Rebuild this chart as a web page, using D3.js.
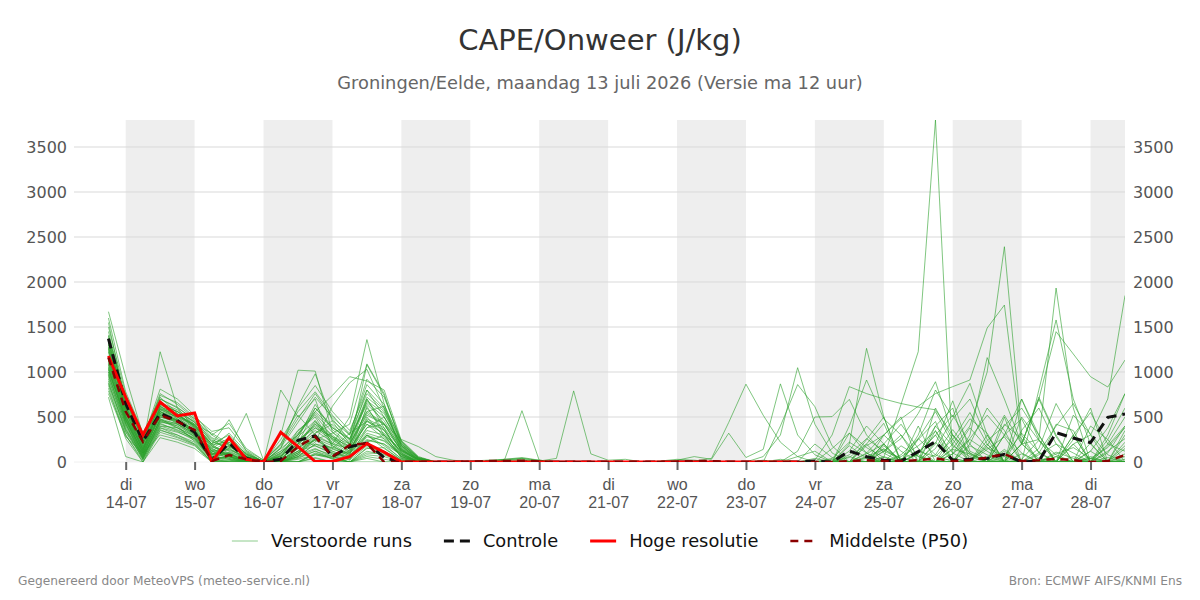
<!DOCTYPE html>
<html>
<head>
<meta charset="utf-8">
<script src="https://cdn.jsdelivr.net/npm/d3@7"></script>
<style>
	body { margin: 0; background: #fff; font-family: "DejaVu Sans", sans-serif; }
	#chart { width: 1200px; height: 600px; }
</style>
</head>
<body>
<div id="chart"></div>
<script>

// 6-hourly steps from ma 13-07 18 uur up to di 28-07 12 uur (60 steps)
const firstStep = new Date(2026, 6, 13, 18);
const dayNames = ["zo", "ma", "di", "wo", "do", "vr", "za"];
const yTicks = [0, 500, 1000, 1500, 2000, 2500, 3000, 3500];

// perturbed members (J/kg)
const perturbedRuns = [
	[1670,950,300,720,540,400, 180,60,10,0, 300,1020,1010,330,160,540,420,120,20, 0,0,0,0,10,20,10,0,0,0,0,0,0,0,0,0,0, 0,0,20,0,60,120,0,180,40,0,0,260,80,0,20,160,60,0,0,110,40,0,10,180],
	[1550,640,180,1225,600,380, 120,40,0,0, 0,60,200,120,30,300,150,20,0, 0,0,0,0,0,0,0,0,0,0,0,0,0,0,0,0,0, 0,0,0,30,0,0,40,220,100,0,0,90,400,180,60,0,0,30,240,80,0,0,50,0],
	[1400,720,240,560,460,330, 60,150,540,20, 120,350,500,200,80,620,300,60,0, 0,0,0,0,20,30,0,0,0,0,0,0,0,0,0,0,0, 0,0,0,0,0,200,50,0,0,120,300,60,0,0,0,180,520,200,40,0,0,60,0,30],
	[1250,560,120,680,520,420, 200,470,120,0, 40,200,600,380,250,800,500,150,30, 0,0,0,0,0,0,0,0,0,0,0,0,0,0,0,0,0, 0,0,0,0,0,0,0,320,160,50,0,0,200,680,120,30,0,0,0,90,160,40,0,0],
	[1180,520,90,620,480,300, 40,100,30,0, 800,500,700,150,320,450,350,80,0, 0,0,0,0,0,0,0,0,0,0,0,0,0,0,0,0,0, 0,0,0,0,0,0,0,60,0,200,420,150,0,140,90,0,300,480,100,0,0,210,0,150],
	[1100,480,60,560,420,280, 20,60,0,0, 150,620,980,450,200,700,380,40,0, 0,0,0,10,20,40,20,0,0,0,0,0,0,0,0,0,0, 0,0,0,0,0,0,30,0,0,0,0,80,0,0,260,520,300,100,0,0,0,40,0,0],
	[1050,430,40,480,380,250, 50,30,0,0, 100,300,560,740,948,900,800,240,60, 0,0,0,0,0,0,0,0,0,0,0,0,0,0,0,0,0, 0,0,0,0,0,0,0,0,90,200,0,0,0,0,0,0,60,320,110,0,0,0,180,400],
	[980,380,30,450,400,230, 30,60,10,0, 20,150,300,200,500,1360,650,100,0, 0,0,0,0,0,0,0,0,0,0,0,0,0,0,0,0,0, 0,0,0,0,0,0,0,0,0,0,60,180,340,100,0,0,0,0,0,0,520,310,80,0],
	[1350,620,200,650,560,450, 260,120,40,0, 0,80,250,320,420,1090,760,180,20, 0,0,0,0,30,50,20,0,0,0,0,0,0,0,0,0,0, 0,0,0,0,0,0,0,80,260,120,40,0,0,0,0,140,280,0,0,60,0,0,0,0],
	[1300,600,150,600,520,420, 320,200,80,10, 60,240,400,260,180,1080,740,220,40, 0,0,0,0,0,0,0,0,0,0,0,0,0,0,0,0,0, 0,0,0,0,0,0,0,0,0,0,180,60,0,0,0,0,0,200,700,280,0,0,0,0],
	[1220,580,220,700,600,480, 300,180,60,0, 0,100,220,620,880,1030,600,150,0, 0,0,0,0,0,0,0,0,0,0,0,0,0,0,0,0,0, 0,0,0,0,0,0,0,0,0,150,0,0,0,90,380,160,0,0,0,0,0,0,120,260],
	[900,340,60,420,360,260, 80,220,100,0, 200,520,300,100,60,240,200,80,0, 0,0,10,20,30,570,20,0,0,0,0,0,0,0,0,0,0, 0,0,0,0,0,40,0,0,0,0,0,100,300,520,200,0,0,0,150,650,300,0,0,90],
	[850,300,20,380,300,200, 0,20,0,0, 0,80,150,60,0,120,80,0,0, 0,0,0,0,0,0,10,40,790,90,20,30,0,0,0,0,0, 0,0,0,0,0,0,0,0,200,430,0,0,0,300,80,0,420,260,0,0,0,0,200,500],
	[1000,500,140,520,450,320, 100,80,30,0, 0,0,80,50,120,380,420,250,170, 60,20,0,0,0,0,0,0,0,0,0,0,0,0,0,0,0, 0,0,0,0,0,0,150,320,100,0,0,250,450,0,0,0,0,350,600,200,0,0,0,0],
	[760,280,100,300,250,180, 0,0,0,0, 0,0,40,0,0,60,30,0,0, 0,0,0,0,0,0,0,0,0,0,0,0,0,0,0,10,40, 440,865,520,220,60,0,0,0,40,0,0,0,0,0,0,60,0,0,0,0,0,0,0,0],
	[820,260,0,360,280,200, 30,0,0,0, 0,40,120,60,0,0,0,0,0, 0,0,0,0,0,0,0,0,0,0,0,0,0,0,20,60,30, 320,50,140,868,300,80,0,0,0,0,0,0,0,0,0,0,0,0,0,0,0,120,0,0],
	[940,360,80,460,380,290, 60,40,0,0, 60,200,350,220,100,300,180,40,0, 0,0,0,0,0,0,0,0,0,0,0,0,0,0,0,0,0, 0,0,60,300,1048,420,100,0,0,180,0,0,0,0,0,0,0,90,0,0,0,0,0,0],
	[880,330,40,400,340,240, 40,20,0,0, 20,120,260,180,60,200,120,20,0, 0,0,0,0,0,0,0,0,0,0,0,0,0,10,30,20,0, 0,0,0,400,860,615,180,0,50,0,0,0,220,0,0,0,0,0,0,0,0,0,0,300],
	[1150,540,170,540,470,350, 140,90,20,0, 40,180,440,300,140,420,260,60,0, 0,0,0,0,0,0,0,0,0,0,0,0,0,0,0,0,0, 0,0,0,0,120,500,504,696,300,100,0,0,0,0,0,0,0,0,0,60,0,0,0,0],
	[1080,470,110,500,440,330, 90,140,60,0, 100,260,180,90,40,280,240,90,10, 0,0,0,0,0,0,0,0,0,0,0,0,0,0,0,0,0, 0,0,0,0,0,20,300,837,760,700,650,610,580,300,100,0,0,0,40,0,0,0,0,0],
	[1020,450,90,470,400,300, 70,30,0,0, 0,60,140,80,20,180,100,0,0, 0,0,0,0,0,0,0,0,0,0,0,0,0,0,0,0,0, 0,0,0,0,0,0,0,200,1263,500,0,0,0,0,0,0,0,0,0,0,300,0,0,0],
	[960,420,70,440,420,310, 110,180,30,0, 50,350,520,280,100,350,300,120,20, 0,0,0,0,0,0,0,0,0,0,0,0,0,0,0,0,0, 0,0,0,0,0,0,0,400,911,480,300,0,0,0,0,0,140,0,0,0,0,0,0,0],
	[1450,680,260,620,520,400, 180,100,0,0, 0,150,380,240,120,500,280,80,0, 0,0,0,0,0,0,0,0,0,0,0,0,0,0,0,0,0, 0,0,0,0,0,0,0,0,0,50,640,1226,3800,40,0,0,0,0,0,0,0,0,0,0],
	[1320,610,190,580,500,390, 150,60,0,0, 0,80,320,420,260,640,460,140,20, 0,0,0,0,0,0,0,0,0,0,0,0,0,0,0,0,0, 0,0,0,0,0,0,0,0,0,120,260,540,892,300,0,0,0,0,0,0,250,600,0,0],
	[1280,590,130,610,540,370, 120,240,50,0, 30,200,460,180,80,460,300,50,0, 0,0,0,0,0,0,0,0,0,0,0,0,0,0,0,0,0, 0,0,0,0,0,0,0,0,0,0,0,300,800,500,874,300,0,0,0,0,0,0,0,0],
	[1180,560,160,520,460,340, 90,50,0,0, 0,0,100,40,0,160,100,0,0, 0,0,0,0,0,0,0,0,0,0,0,0,0,0,0,0,0, 0,0,0,0,0,0,0,0,100,300,480,620,760,837,911,1489,1744,210,0,0,0,0,0,0],
	[1120,500,100,530,470,360, 100,70,20,0, 70,230,420,260,140,600,350,100,0, 0,0,0,0,0,0,0,0,0,0,0,0,0,0,0,0,0, 0,0,0,0,0,0,0,0,0,0,0,0,0,150,400,1000,2392,300,0,0,0,0,0,0],
	[1060,460,80,480,420,320, 80,110,40,0, 150,300,600,400,220,700,420,130,30, 0,0,0,0,0,0,0,0,0,0,0,0,0,0,0,0,0, 0,0,0,0,0,0,0,0,0,0,0,0,0,0,300,1160,700,200,250,1933,600,0,0,0],
	[1000,420,50,430,350,270, 40,0,0,0, 0,100,250,150,70,250,200,30,0, 0,0,0,0,0,0,0,0,0,0,0,0,0,0,0,0,0, 0,0,0,0,0,0,0,0,0,0,0,0,0,0,0,0,0,0,800,1578,700,200,0,0],
	[1380,700,280,560,480,380, 160,130,60,0, 0,260,640,360,200,560,430,160,30, 0,0,0,0,0,0,0,0,0,0,0,0,0,0,0,0,0, 0,0,0,0,0,0,0,0,0,0,0,0,0,0,0,0,0,200,700,1448,1200,948,833,1133],
	[1260,580,200,590,510,410, 200,300,80,0, 0,120,180,100,50,380,500,200,50, 0,0,0,0,0,0,0,0,0,0,0,0,0,0,0,0,0, 0,0,0,0,0,0,0,0,0,0,0,0,0,0,0,0,0,0,0,0,200,300,700,1850],
	[1140,520,140,510,460,350, 120,80,10,0, 30,120,280,200,150,420,320,110,10, 0,0,0,0,0,0,0,0,0,0,0,0,0,0,0,0,0, 0,0,0,0,0,0,0,120,400,200,0,0,80,360,100,0,0,0,0,0,0,0,300,760],
	[1090,490,120,560,500,340, 80,160,30,0, 80,280,460,250,120,480,380,130,20, 0,0,0,0,0,0,0,0,0,0,0,0,0,0,0,0,0, 0,0,0,0,0,0,0,0,180,300,120,0,0,200,480,320,0,0,100,400,650,300,0,60],
	[1030,470,100,460,430,300, 60,100,0,0, 0,0,90,60,30,220,300,140,30, 0,0,0,0,0,0,0,0,0,0,0,0,0,0,0,0,0, 0,0,0,0,0,0,0,0,0,0,80,260,560,200,0,0,300,700,250,0,0,120,380,760],
	[970,440,70,400,380,280, 40,60,20,0, 20,100,260,120,60,300,230,70,0, 0,0,0,0,0,0,0,0,0,0,0,0,0,0,0,0,0, 0,0,0,0,0,0,0,50,200,0,0,0,0,0,0,240,400,600,300,0,0,0,100,400],
	[920,400,50,380,330,260, 20,0,0,0, 0,50,120,30,0,150,160,20,0, 0,0,0,0,0,0,0,0,0,0,0,0,0,0,0,0,0, 0,0,0,0,0,0,0,0,0,0,0,0,0,0,200,600,350,0,0,0,300,550,200,120],
	[870,360,30,350,300,220, 0,0,0,0, 0,0,50,0,0,80,60,0,0, 0,0,0,0,0,0,0,0,0,0,0,0,0,0,0,0,0, 0,0,0,0,0,0,0,0,0,60,0,0,150,480,700,250,0,0,0,0,0,0,250,600],
	[1320,660,230,700,610,460, 240,200,90,10, 60,300,540,330,200,560,620,230,50, 0,0,0,10,30,40,10,0,0,0,0,0,0,0,0,0,0, 0,0,0,0,0,0,0,0,0,0,0,100,300,0,0,200,0,0,0,0,0,0,0,350],
	[1230,600,170,660,580,440, 220,170,70,0, 120,240,380,280,160,680,540,190,30, 0,0,0,0,0,0,0,0,0,0,0,0,0,0,0,0,0, 0,0,0,0,0,0,0,0,0,300,500,0,0,0,180,80,0,0,0,0,200,0,0,0],
	[1170,550,130,630,560,420, 190,220,60,0, 40,180,320,460,300,760,580,180,40, 0,0,0,0,0,0,0,0,0,0,0,0,0,0,0,0,0, 0,0,0,0,0,0,0,0,0,0,0,0,400,600,0,0,0,500,240,0,0,0,0,0],
	[1500,750,300,580,500,410, 200,60,0,0, 0,60,200,160,100,460,360,90,0, 0,0,0,0,0,0,0,0,0,0,0,0,0,0,0,0,0, 0,0,0,0,0,0,0,0,0,0,30,120,60,250,550,200,0,0,80,200,100,0,0,0],
	[1600,780,330,640,560,440, 230,150,30,0, 70,200,420,280,200,520,420,130,20, 0,0,0,0,0,0,0,0,0,0,0,0,0,0,0,0,0, 0,0,0,0,0,0,0,0,60,140,40,0,0,0,0,0,0,0,0,0,0,40,160,380],
	[1410,690,250,760,640,480, 270,190,60,0, 90,320,560,380,260,660,500,170,20, 0,0,0,0,0,0,0,0,0,0,0,0,0,0,0,0,0, 0,0,0,0,0,0,0,0,0,0,0,0,0,90,250,120,0,0,0,0,0,0,0,0],
	[1350,640,210,540,460,360, 130,90,0,0, 10,160,240,140,90,320,260,60,0, 0,0,0,0,0,0,0,0,0,0,0,0,0,0,0,0,0, 0,0,0,0,0,0,0,0,0,0,0,0,0,40,0,0,0,200,720,300,0,0,0,0],
	[790,300,0,330,270,190, 0,0,0,0, 0,30,80,40,0,100,90,0,0, 0,0,0,0,0,0,0,0,0,0,0,0,0,0,0,0,0, 0,0,0,0,0,0,0,0,0,0,0,0,350,0,0,0,500,0,0,0,60,0,0,0],
	[720,60,0,270,220,150, 0,0,0,0, 0,0,0,0,0,40,0,0,0, 0,0,0,0,0,0,0,0,0,0,0,0,0,0,0,0,0, 0,0,0,0,0,0,0,0,250,500,0,0,0,0,0,0,0,0,0,0,0,0,0,0],
	[1040,470,110,500,450,330, 150,270,90,0, 160,440,720,500,320,860,640,210,40, 0,0,0,0,0,0,0,0,0,0,0,0,0,0,0,0,0, 0,0,0,0,0,0,0,0,0,200,0,0,0,0,0,0,0,700,300,0,0,0,0,0],
	[1130,510,150,590,530,400, 170,320,110,0, 250,560,780,520,300,920,720,230,50, 0,0,0,0,0,0,0,0,0,0,0,0,0,0,0,0,0, 0,0,0,0,0,0,0,0,0,0,0,0,600,250,0,0,120,0,0,0,0,400,250,0],
	[1270,620,210,740,660,500, 340,380,130,20, 180,480,760,480,240,720,560,180,30, 0,0,0,0,0,0,0,0,0,0,0,0,0,0,0,0,0, 0,0,0,0,0,0,0,0,0,0,0,400,0,0,0,0,0,0,0,420,350,0,0,0],
	[1370,670,250,810,700,520, 300,430,150,20, 200,600,850,560,350,800,600,200,40, 0,0,0,0,0,0,0,0,0,0,0,0,0,0,0,0,0, 0,0,0,0,0,0,0,0,0,0,0,0,0,0,0,300,0,0,0,0,0,0,0,220]
];

const controlRun = [1370,650,230,540,460,330, 20,210,40,0, 30,240,290,60,170,210,50,0,0, 0,0,0,0,0,0,0,0,0,0,0,0,0,0,0,0,0, 0,0,0,0,0,10,0,122,59,20,10,115,226,20,30,40,85,0,10,326,266,215,496,533];
// hoge resolutie stops after day 10
const hiresRun = [1178,720,300,665,511,545, 0,270,30,0, 330,170,5,5,59,205,110,0,0, 0,0,0,0,0,0,0,0,0,0,0,0,0,0,0,0,0, 0,0,0,0,0];
const medianRun = [1160,560,226,522,448,356, 10,78,30,0, 10,170,281,59,189,207,0,0,0, 0,0,5,10,10,15,5,0,0,0,0,0,0,0,5,10,10, 0,0,0,0,0,0,0,10,20,10,10,20,40,10,20,50,89,10,20,35,20,0,10,78];


class CapeChart {

	constructor(parentElement) {
		this.parentElement = parentElement;
		this.initVis();
	}

	/*
	 *  Initialize vis
	 */
	initVis() {
		let vis = this;

		vis.margin = { top: 120, right: 75, bottom: 138, left: 74 };
		vis.width = 1200 - vis.margin.left - vis.margin.right;
		vis.height = 600 - vis.margin.top - vis.margin.bottom;

		vis.root = d3.select("#" + vis.parentElement).append("svg")
			.attr("width", 1200)
			.attr("height", 600)
			.style("font-family", "'DejaVu Sans', sans-serif");

		vis.svg = vis.root.append("g")
			.attr("transform", `translate(${vis.margin.left},${vis.margin.top})`);

		vis.xScale = d3.scaleTime()
			.domain([new Date(2026, 6, 13, 6), new Date(2026, 6, 28, 12)])
			.range([0, vis.width]);

		vis.yScale = d3.scaleLinear()
			.domain([0, 3800])
			.range([vis.height, 0]);

		vis.root.append("defs").append("clipPath")
			.attr("id", "plot-clip")
			.append("rect")
			.attr("width", vis.width)
			.attr("height", vis.height);

		// titles
		vis.root.append("text")
			.attr("x", 600).attr("y", 50)
			.attr("text-anchor", "middle")
			.attr("font-size", 29)
			.attr("fill", "#333")
			.text("CAPE/Onweer (J/kg)");

		vis.root.append("text")
			.attr("x", 600).attr("y", 89)
			.attr("text-anchor", "middle")
			.attr("font-size", 17.8)
			.attr("fill", "#666")
			.text("Groningen/Eelde, maandag 13 juli 2026 (Versie ma 12 uur)");

		vis.days = d3.timeDay.range(new Date(2026, 6, 14), new Date(2026, 6, 28, 1));

		vis.updateVis();
	}

	updateVis() {
		let vis = this;
		let x = vis.xScale, y = vis.yScale;
		let stepTime = i => d3.timeHour.offset(firstStep, 6 * i);

		// alternating day bands
		vis.svg.append("g").selectAll("rect")
			.data(vis.days.filter((d, i) => i % 2 === 0))
			.join("rect")
			.attr("x", d => x(d))
			.attr("y", 0)
			.attr("width", d => Math.min(x(d3.timeDay.offset(d, 1)), vis.width) - x(d))
			.attr("height", vis.height)
			.attr("fill", "#eeeeee");

		// horizontal grid
		vis.svg.append("g").selectAll("line")
			.data(yTicks)
			.join("line")
			.attr("x1", 0).attr("x2", vis.width)
			.attr("y1", d => y(d)).attr("y2", d => y(d))
			.attr("stroke", d => d === 0 ? "#f0f0f0" : "#d9d9d9")
			.attr("stroke-width", 1);

		// y labels, both sides
		[{ xPos: -7, anchor: "end" }, { xPos: vis.width + 8, anchor: "start" }].forEach(side => {
			vis.svg.append("g").selectAll("text")
				.data(yTicks)
				.join("text")
				.attr("x", side.xPos)
				.attr("y", d => y(d))
				.attr("dy", "0.35em")
				.attr("text-anchor", side.anchor)
				.attr("font-size", 16)
				.attr("fill", "#555")
				.text(d => d);
		});

		// x axis: ticks at midnight, two-line labels
		let xAxis = vis.svg.append("g")
			.attr("transform", `translate(0,${vis.height})`)
			.call(d3.axisBottom(x).tickValues(vis.days).tickSize(8).tickFormat(""));
		xAxis.select(".domain").remove();
		xAxis.selectAll(".tick line").attr("stroke", "#666").attr("stroke-width", 2);
		xAxis.selectAll(".tick").each(function (d) {
			let t = d3.select(this).append("text")
				.attr("fill", "#555")
				.attr("font-size", 16)
				.attr("text-anchor", "middle");
			t.append("tspan").attr("x", 0).attr("y", 28).text(dayNames[d.getDay()]);
			t.append("tspan").attr("x", 0).attr("y", 46).text(d3.timeFormat("%d-%m")(d));
		});

		let line = d3.line()
			.x((d, i) => x(stepTime(i)))
			.y(d => y(d));

		let plot = vis.svg.append("g").attr("clip-path", "url(#plot-clip)");

		plot.append("g").selectAll("path")
			.data(perturbedRuns)
			.join("path")
			.attr("d", line)
			.attr("fill", "none")
			.attr("stroke", "#2ca02c")
			.attr("stroke-opacity", 0.6)
			.attr("stroke-width", 1);

		plot.append("path").datum(controlRun)
			.attr("d", line)
			.attr("fill", "none")
			.attr("stroke", "#111")
			.attr("stroke-width", 3)
			.attr("stroke-dasharray", "10,6");

		plot.append("path").datum(hiresRun)
			.attr("d", line)
			.attr("fill", "none")
			.attr("stroke", "#ff0000")
			.attr("stroke-width", 3);

		plot.append("path").datum(medianRun)
			.attr("d", line)
			.attr("fill", "none")
			.attr("stroke", "#8b0000")
			.attr("stroke-width", 2.5)
			.attr("stroke-dasharray", "8,6");

		// legend
		let legendItems = [
			{ label: "Verstoorde runs", color: "#8dcc8d", width: 1, dash: null },
			{ label: "Controle", color: "#111", width: 3, dash: "10,6" },
			{ label: "Hoge resolutie", color: "#ff0000", width: 3, dash: null },
			{ label: "Middelste (P50)", color: "#8b0000", width: 2.5, dash: "8,6" }
		];
		let legend = vis.root.append("g");
		let xPos = 0;
		legendItems.forEach(item => {
			let g = legend.append("g").attr("transform", `translate(${xPos},0)`);
			g.append("line")
				.attr("x1", 0).attr("x2", 26)
				.attr("y1", 0).attr("y2", 0)
				.attr("stroke", item.color)
				.attr("stroke-width", item.width)
				.attr("stroke-dasharray", item.dash);
			let txt = g.append("text")
				.attr("x", 39).attr("dy", "0.35em")
				.attr("font-size", 17.8)
				.attr("fill", "#111")
				.text(item.label);
			xPos += 39 + txt.node().getComputedTextLength() + 32;
		});
		let legendWidth = xPos - 32;
		legend.attr("transform", `translate(${600 - legendWidth / 2},541)`);

		// footer
		vis.root.append("text")
			.attr("x", 18).attr("y", 585)
			.attr("font-size", 12.2)
			.attr("fill", "#888")
			.text("Gegenereerd door MeteoVPS (meteo-service.nl)");

		vis.root.append("text")
			.attr("x", 1182).attr("y", 585)
			.attr("text-anchor", "end")
			.attr("font-size", 12.2)
			.attr("fill", "#888")
			.text("Bron: ECMWF AIFS/KNMI Ens");
	}
}

new CapeChart("chart");
</script>
</body>
</html>
